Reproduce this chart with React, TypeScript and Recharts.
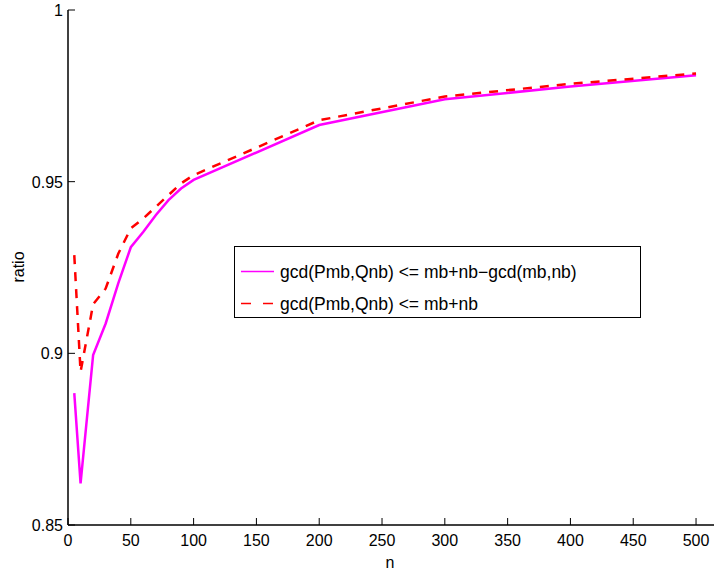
import { LineChart, Line, XAxis, YAxis } from 'recharts'

// sample sizes n and the two ratio curves
const nValues = [5, 10, 20, 30, 40, 50, 60, 70, 80, 90, 100, 200, 300, 400, 500]
const tightRatio = [0.8884, 0.8621, 0.8995, 0.9087, 0.9204, 0.9309, 0.9354, 0.9403, 0.9446, 0.948, 0.9505, 0.9665, 0.974, 0.9777, 0.981]
const looseRatio = [0.9286, 0.8946, 0.9143, 0.9189, 0.929, 0.9364, 0.9393, 0.9427, 0.9461, 0.9495, 0.9519, 0.9679, 0.9748, 0.9785, 0.9815]

const xTicks = [0, 50, 100, 150, 200, 250, 300, 350, 400, 450, 500]
const yTicks = [0.85, 0.9, 0.95, 1]
const yTickLabels = ['0.85', '0.9', '0.95', '1']

const tightLabel = 'gcd(Pmb,Qnb) <= mb+nb\u2212gcd(mb,nb)'
const looseLabel = 'gcd(Pmb,Qnb) <= mb+nb'

const data = nValues.map((n, i) => ({ n, tight: tightRatio[i], loose: looseRatio[i] }))

const FONT = '"Liberation Sans", Arial, Helvetica, sans-serif'
const MAGENTA = '#ff00ff'
const RED = '#ff0000'

const BottomTick = ({ x, y, payload }: any) => (
  <g>
    <line x1={x} y1={y} x2={x} y2={y - 7} stroke="#000" strokeWidth={1} />
    <text x={x} y={y + 21} textAnchor="middle" fontSize={16} fontFamily={FONT} fill="#000">
      {payload.value}
    </text>
  </g>
)

const TopTick = ({ x, y }: any) => (
  <line x1={x} y1={y} x2={x} y2={y + 7} stroke="#000" strokeWidth={1} />
)

const LeftTick = ({ x, y, payload, index }: any) => (
  <g>
    <line x1={x} y1={y} x2={x + 7} y2={y} stroke="#000" strokeWidth={1} />
    <text x={x - 5} y={y + 6} textAnchor="end" fontSize={16} fontFamily={FONT} fill="#000">
      {yTickLabels[index] ?? payload.value}
    </text>
  </g>
)

// legend box drawn over the plot, like the matlab one
const LegendBox = () => (
  <div
    style={{
      position: 'absolute',
      left: 234,
      top: 246,
      width: 405,
      height: 70,
      border: '1.5px solid #000',
      background: '#fff',
    }}
  >
    <svg width={405} height={70} style={{ position: 'absolute', left: 0, top: 0 }}>
      <line x1={6} y1={24.5} x2={39} y2={24.5} stroke={MAGENTA} strokeWidth={1.5} />
      <line x1={6} y1={56.5} x2={39} y2={56.5} stroke={RED} strokeWidth={1.5} strokeDasharray="10 12" />
      <text x={45} y={31} fontSize={17.5} fontFamily={FONT} fill="#000">{tightLabel}</text>
      <text x={45} y={63} fontSize={17.5} fontFamily={FONT} fill="#000">{looseLabel}</text>
    </svg>
  </div>
)

export default function App() {
  return (
    <div style={{ position: 'absolute', left: 0, top: 0, width: 714, height: 572, background: '#fff' }}>
      <LineChart
        width={714}
        height={572}
        data={data}
        margin={{ top: 10, right: 0, left: 0, bottom: 0 }}
      >
        <XAxis
          dataKey="n"
          type="number"
          domain={[0, 514.3]}
          ticks={xTicks}
          interval={0}
          allowDataOverflow
          tickLine={false}
          tickSize={0}
          tickMargin={0}
          tick={<BottomTick />}
          axisLine={{ stroke: '#000', strokeWidth: 1.5 }}
          height={47}
        />
        <XAxis
          xAxisId="top"
          orientation="top"
          dataKey="n"
          type="number"
          domain={[0, 514.3]}
          ticks={xTicks}
          interval={0}
          allowDataOverflow
          tickLine={false}
          tickSize={0}
          tickMargin={0}
          tick={<TopTick />}
          axisLine={{ stroke: '#000', strokeWidth: 1.5 }}
          height={0}
        />
        <YAxis
          type="number"
          domain={[0.85, 1]}
          ticks={yTicks}
          interval={0}
          allowDataOverflow
          tickLine={false}
          tickSize={0}
          tickMargin={0}
          tick={<LeftTick />}
          axisLine={{ stroke: '#000', strokeWidth: 1.5 }}
          width={68}
        />
        <Line
          dataKey="tight"
          stroke={MAGENTA}
          strokeWidth={2.5}
          dot={false}
          isAnimationActive={false}
          name={tightLabel}
        />
        <Line
          dataKey="loose"
          stroke={RED}
          strokeWidth={2.5}
          strokeDasharray="9 8"
          dot={false}
          isAnimationActive={false}
          name={looseLabel}
        />
        <text x={18} y={267} transform="rotate(-90 18 267)" textAnchor="middle" dominantBaseline="central" fontSize={16} fontFamily={FONT} fill="#000">
          ratio
        </text>
        <text x={390} y={562} textAnchor="middle" dominantBaseline="central" fontSize={16} fontFamily={FONT} fill="#000">
          n
        </text>
      </LineChart>
      <LegendBox />
    </div>
  )
}
